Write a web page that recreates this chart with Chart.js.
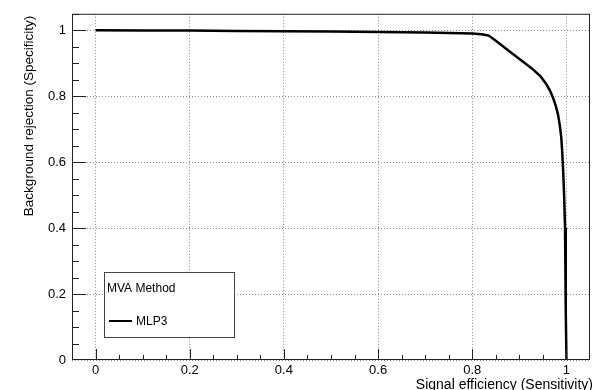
<!DOCTYPE html>
<html>
<head>
<meta charset="utf-8">
<script src="https://cdn.jsdelivr.net/npm/chart.js@4/dist/chart.umd.min.js"></script>
<style>
  html, body { margin: 0; padding: 0; background: #fff; }
  #wrap { width: 596px; height: 390px; }
</style>
</head>
<body>
<div id="wrap"><canvas id="roc"></canvas></div>
<script>
// ROC curve
const sigEff = [0, 0.1, 0.2, 0.3, 0.4, 0.5, 0.6, 0.7, 0.75, 0.8, 0.82, 0.835, 0.85, 0.88, 0.91, 0.93, 0.945, 0.957, 0.965, 0.971, 0.977, 0.982, 0.986, 0.989, 0.991, 0.993, 0.995, 0.997, 0.998, 0.999, 1.0];
const bkgRej = [1.0, 0.9995, 0.999, 0.998, 0.997, 0.996, 0.995, 0.993, 0.992, 0.99, 0.988, 0.984, 0.968, 0.935, 0.902, 0.88, 0.86, 0.837, 0.817, 0.797, 0.772, 0.745, 0.71, 0.675, 0.63, 0.575, 0.5, 0.4, 0.3, 0.15, 0.0];
const majorTicks = [0, 0.2, 0.4, 0.6, 0.8, 1];
const methodName = 'MLP3';
const legendTitle = 'MVA Method';
const xTitle = 'Signal efficiency (Sensitivity)';
const yTitle = 'Background rejection (Specificity)';

const FONT = '"Liberation Sans", Arial, sans-serif';

// frame, ROOT style inner ticks, axis titles and legend box
const rootFrame = {
    id: 'rootFrame',
    afterDraw(chart) {
        const ctx = chart.ctx;
        const a = chart.chartArea;
        const xs = chart.scales.x, ys = chart.scales.y;
        ctx.save();
        ctx.strokeStyle = '#222';
        ctx.lineWidth = 1;
        ctx.strokeRect(a.left + 0.5, a.top + 0.5, a.right - a.left - 1, a.bottom - a.top - 1);

        ctx.beginPath();
        for (let i = -1; i <= 21; i++) {
            const v = i * 0.05;
            const major = i % 4 === 0;
            const px = Math.round(xs.getPixelForValue(v)) + 0.5;
            if (px > a.left && px < a.right) {
                ctx.moveTo(px, a.bottom);
                ctx.lineTo(px, a.bottom - (major ? 11 : 5));
            }
            const py = Math.round(ys.getPixelForValue(v)) + 0.5;
            if (py > a.top && py < a.bottom) {
                ctx.moveTo(a.left, py);
                ctx.lineTo(a.left + (major ? 14 : 7), py);
            }
        }
        ctx.stroke();

        // axis titles
        ctx.fillStyle = '#000';
        ctx.font = '14px ' + FONT;
        ctx.textAlign = 'right';
        ctx.textBaseline = 'middle';
        ctx.fillText(xTitle, 593, 385);
        ctx.save();
        ctx.translate(29, a.top + 2);
        ctx.rotate(-Math.PI / 2);
        ctx.font = '13.5px ' + FONT;
        ctx.textAlign = 'right';
        ctx.fillText(yTitle, 0, 0);
        ctx.restore();

        // legend box
        const bx = 104, by = 272, bw = 130, bh = 65;
        ctx.fillStyle = '#fff';
        ctx.fillRect(bx, by, bw, bh);
        ctx.strokeStyle = '#444';
        ctx.strokeRect(bx + 0.5, by + 0.5, bw, bh);
        ctx.fillStyle = '#000';
        ctx.font = '12px ' + FONT;
        ctx.textAlign = 'left';
        ctx.fillText(legendTitle, 107, 289);
        ctx.beginPath();
        ctx.strokeStyle = '#000';
        ctx.lineWidth = 2;
        ctx.moveTo(109, 321);
        ctx.lineTo(132, 321);
        ctx.stroke();
        ctx.fillText(chart.data.datasets[0].label, 136, 322);
        ctx.restore();
    }
};

const points = sigEff.map((x, i) => ({ x: x, y: bkgRej[i] }));

new Chart(document.getElementById('roc').getContext('2d'), {
    type: 'line',
    data: {
        datasets: [{
            label: methodName,
            data: points,
            borderColor: '#000',
            borderWidth: 2.5,
            pointRadius: 0,
            fill: false,
            tension: 0
        }]
    },
    options: {
        responsive: true,
        maintainAspectRatio: false,
        animation: false,
        layout: { padding: { top: 8, right: 6, left: 0, bottom: 0 } },
        plugins: {
            legend: { display: false },
            tooltip: { enabled: false }
        },
        scales: {
            x: {
                type: 'linear',
                min: -0.05,
                max: 1.05,
                afterBuildTicks: (s) => { s.ticks = majorTicks.map(v => ({ value: v })); },
                afterFit: (s) => { s.height = 30; },
                grid: { color: '#888', lineWidth: 1, drawTicks: false },
                border: { display: false, dash: [1, 2] },
                ticks: {
                    padding: 3,
                    color: '#000',
                    font: { family: FONT, size: 13 },
                    maxRotation: 0,
                    callback: (v) => String(v)
                }
            },
            y: {
                type: 'linear',
                min: 0,
                max: 1.05,
                afterBuildTicks: (s) => { s.ticks = majorTicks.map(v => ({ value: v })); },
                afterFit: (s) => { s.width = 72; },
                grid: { color: '#888', lineWidth: 1, drawTicks: false },
                border: { display: false, dash: [1, 2] },
                ticks: {
                    padding: 6,
                    color: '#000',
                    font: { family: FONT, size: 13 },
                    callback: (v) => String(v)
                }
            }
        }
    },
    plugins: [rootFrame]
});
</script>
</body>
</html>
